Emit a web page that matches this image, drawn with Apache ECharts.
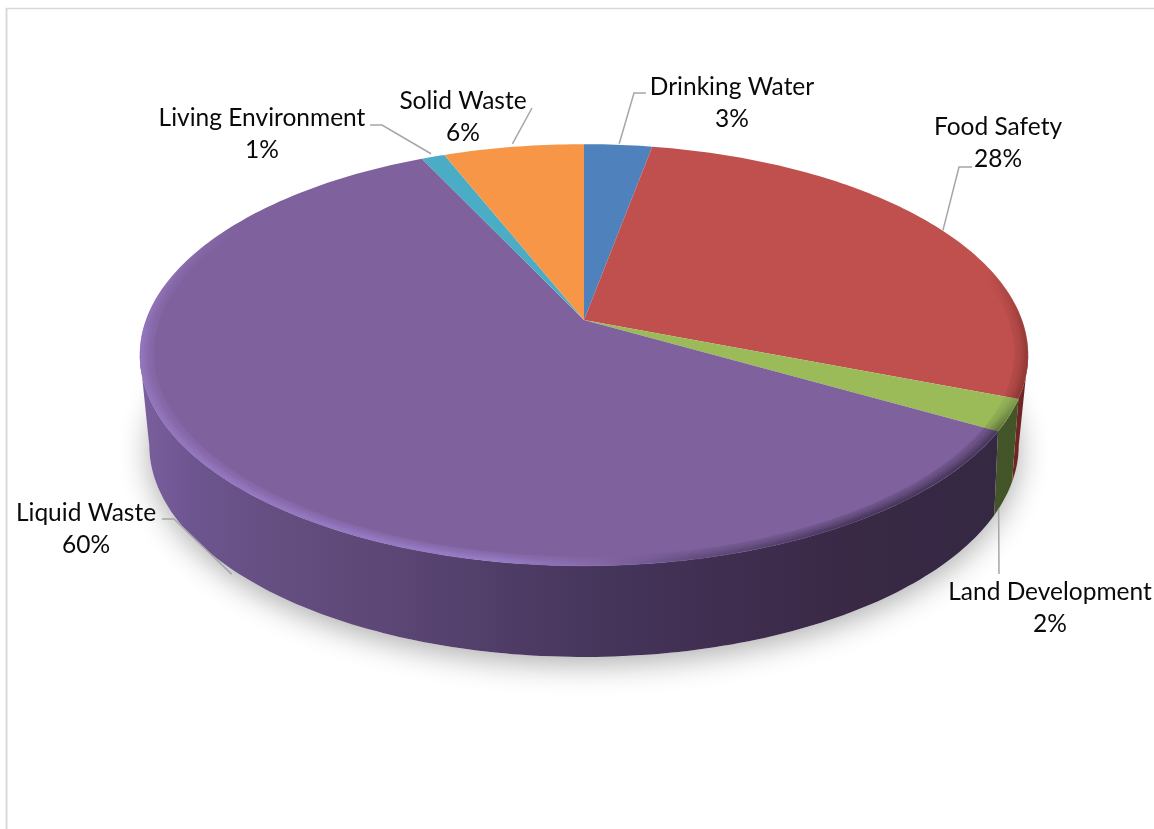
<!DOCTYPE html>
<html>
<head>
<meta charset="utf-8">
<style>html,body{margin:0;padding:0;background:#fff}#chart{width:1154px;height:829px}</style>
<script src="https://cdn.jsdelivr.net/npm/echarts@6/dist/echarts.min.js"></script>
</head>
<body>
<div id="chart"></div>
<script>
// Data
const categories = ['Drinking Water','Food Safety','Land Development','Liquid Waste','Living Environment','Solid Waste'];
const shares = [2.9, 28.0, 2.4, 59.7, 1.0, 6.0];

// Styles
const topColors = ['#4F81BD','#C0504D','#9BBB59','#7F619D','#4BACC6','#F79646'];
const wallStops = [
  [[0,'#3a5f8e'],[1,'#3a5f8e']],
  [[0,'#8a3634'],[1,'#6f2523']],
  [[0,'#4d6130'],[1,'#435528']],
  [[0,'#7b5f9e'],[0.06,'#6d5590'],[0.14,'#664f82'],[0.3,'#5a4573'],[0.5,'#47365d'],[0.68,'#3e2d4e'],[0.8,'#392945'],[1,'#332843']],
  [[0,'#2c7f96'],[1,'#2c7f96']],
  [[0,'#b86d2c'],[1,'#b86d2c']]
];
// Rim bevel pieces: start angle, end angle, gradient direction and range, colour stops
const rims = {
  1: [{from:68, to:111.2, g:[0,270,0,420], stops:[[0,'rgba(110,40,38,0)'],[0.4,'rgba(110,40,38,0.55)'],[1,'#7c2e2c']]}],
  2: [{from:111.2, to:119.9, g:[0,395,0,430], stops:[[0,'#7d9a4c'],[1,'#4d6130']]}],
  3: [{from:119.9, to:268, g:[140,0,1030,0], stops:[[0,'#9a7cc8'],[0.3,'#9a7ecb'],[0.4,'#9a80cc'],[0.52,'#8468a8'],[0.62,'#5f4a7c'],[0.8,'#3f3052'],[1,'#3a2c4a']]},
      {from:268, to:305, g:[0,225,0,345], stops:[[0,'rgba(154,124,200,0)'],[1,'#9a7cc8']]}]
};
const bandCount = 12;

// Text and leader layout. Anchor = point on the slice's mid angle, on the top or bottom rim, plus a nudge.
const labelCentres = [[732,103.5],[998,143.5],[1050,608.5],[86,529.5],[262,134.5],[463,117.5]];
const leaderLayout = [
  {rim:'top', nudge:[1,-1],  path:[[634,93],[646,93]]},
  {rim:'top', nudge:[5,3],   path:[[959,167],[972,167]]},
  {rim:'bot', nudge:[-6,10], path:[[999,574]]},
  {rim:'bot', nudge:[10,12], path:[[174,519],[162,519]]},
  {rim:'top', nudge:[-2,-3], path:[[382,125],[370,125]]},
  {rim:'top', nudge:[-1,-3], path:[[532,108]]}
];
const FONT = '24.5px Lato, Carlito, sans-serif';
const LEADER = '#a6a6a6';

// Perspective projection of the disc
const CX = 584;
const topP = {R:438, S:205, k:-0.166, c0:320};
const botP = {R:426, S:203.5, k:-0.2, c0:402.6};
function project(p, deg, scale) {
  const a = deg * Math.PI / 180, sc = scale === undefined ? 1 : scale;
  const s = Math.sin(a) * sc, y = -Math.cos(a) * sc, d = 1 + p.k * y;
  return [CX + p.R * s / d, p.c0 + p.S * y / d];
}
function arc(p, a0, a1, scale) {
  const n = Math.max(2, Math.ceil(Math.abs(a1 - a0))), out = [];
  for (let i = 0; i <= n; i++) out.push(project(p, a0 + (a1 - a0) * i / n, scale));
  return out;
}
// Angle range of the rim that faces the viewer: between the two silhouette points of the ellipse
function frontRange(p) {
  const a = Math.acos(p.k) * 180 / Math.PI;
  return [a, 360 - a];
}
function clipArc(p, a0, a1) {
  const r = frontRange(p);
  const lo = Math.max(a0, r[0]), hi = Math.min(a1, r[1]);
  return hi > lo ? [lo, hi] : null;
}
const total = shares.reduce((a, b) => a + b, 0);
function sliceAngles(i) {
  let before = 0;
  for (let j = 0; j < i; j++) before += shares[j];
  return [before / total * 360, (before + shares[i]) / total * 360];
}
function gradient(g, stops) {
  return {type:'linear', global:true, x:g[0], y:g[1], x2:g[2], y2:g[3],
    colorStops: stops.map(s => ({offset:s[0], color:s[1]}))};
}

function renderSlice(params, api) {
  const i = params.dataIndex;
  const [a0, a1] = sliceAngles(i);
  const mid = (a0 + a1) / 2;
  const kids = [];
  // Side wall: front-facing part only
  const tr = clipArc(topP, a0, a1), br = clipArc(botP, a0, a1);
  if (tr && br) {
    kids.push({type:'polygon', z2:10,
      shape:{points: arc(topP, tr[0], tr[1]).concat(arc(botP, br[1], br[0]))},
      style:{fill: gradient([140,0,1030,0], wallStops[i])}});
  }
  // Top face
  kids.push({type:'polygon', z2:20,
    shape:{points: [[CX, topP.c0]].concat(arc(topP, a0, a1))},
    style:{fill: topColors[i]}});
  // Bevel
  (rims[i] || []).forEach(rim => {
    const stroke = gradient(rim.g, rim.stops);
    for (let n = 0; n < bandCount; n++) {
      const t = (n + 1) / bandCount;
      kids.push({type:'polyline', z2:30 + n,
        shape:{points: arc(topP, rim.from, rim.to, 0.968 + 0.03 * t)},
        style:{fill:'none', stroke:stroke, lineWidth:2, opacity:0.12 + 0.5 * t * t, lineCap:'butt'}});
    }
  });
  // Leader
  const lay = leaderLayout[i];
  const p0 = project(lay.rim === 'top' ? topP : botP, mid);
  const pts = [[p0[0] + lay.nudge[0], p0[1] + lay.nudge[1]]].concat(lay.path);
  kids.push({type:'polyline', z2:50, shape:{points:pts},
    style:{fill:'none', stroke:LEADER, lineWidth:1.5}});
  // Label
  const lc = labelCentres[i];
  kids.push({type:'text', z2:60, x:lc[0], y:lc[1],
    style:{text: categories[i] + '\n' + Math.round(api.value(0)) + '%', font:FONT, fill:'#0a0a0a',
      align:'center', verticalAlign:'middle', lineHeight:32}});
  return {type:'group', children:kids};
}

function renderShadow() {
  return {type:'polygon', shape:{points: arc(botP, 0, 360)},
    style:{fill:'#fff', shadowBlur:30, shadowColor:'rgba(0,0,0,0.32)', shadowOffsetX:0, shadowOffsetY:7}};
}
function renderFrame() {
  return {type:'group', children:[
    {type:'line', shape:{x1:6.5,y1:8,x2:6.5,y2:829}, style:{stroke:'#d9d9d9', lineWidth:2}},
    {type:'line', shape:{x1:6,y1:8.5,x2:1154,y2:8.5}, style:{stroke:'#d9d9d9', lineWidth:1.5}}
  ]};
}

const chart = echarts.init(document.getElementById('chart'), null, {renderer:'canvas', width:1154, height:829});
chart.setOption({
  animation:false,
  backgroundColor:'#fff',
  series:[
    {type:'custom', coordinateSystem:'none', silent:true, z:1, data:[0], renderItem:renderFrame},
    {type:'custom', coordinateSystem:'none', silent:true, z:2, data:[0], renderItem:renderShadow},
    {type:'custom', coordinateSystem:'none', silent:true, z:3,
     data: shares.map((v, i) => ({name:categories[i], value:[v]})), encode:{value:0}, renderItem:renderSlice}
  ]
});
</script>
</body>
</html>
